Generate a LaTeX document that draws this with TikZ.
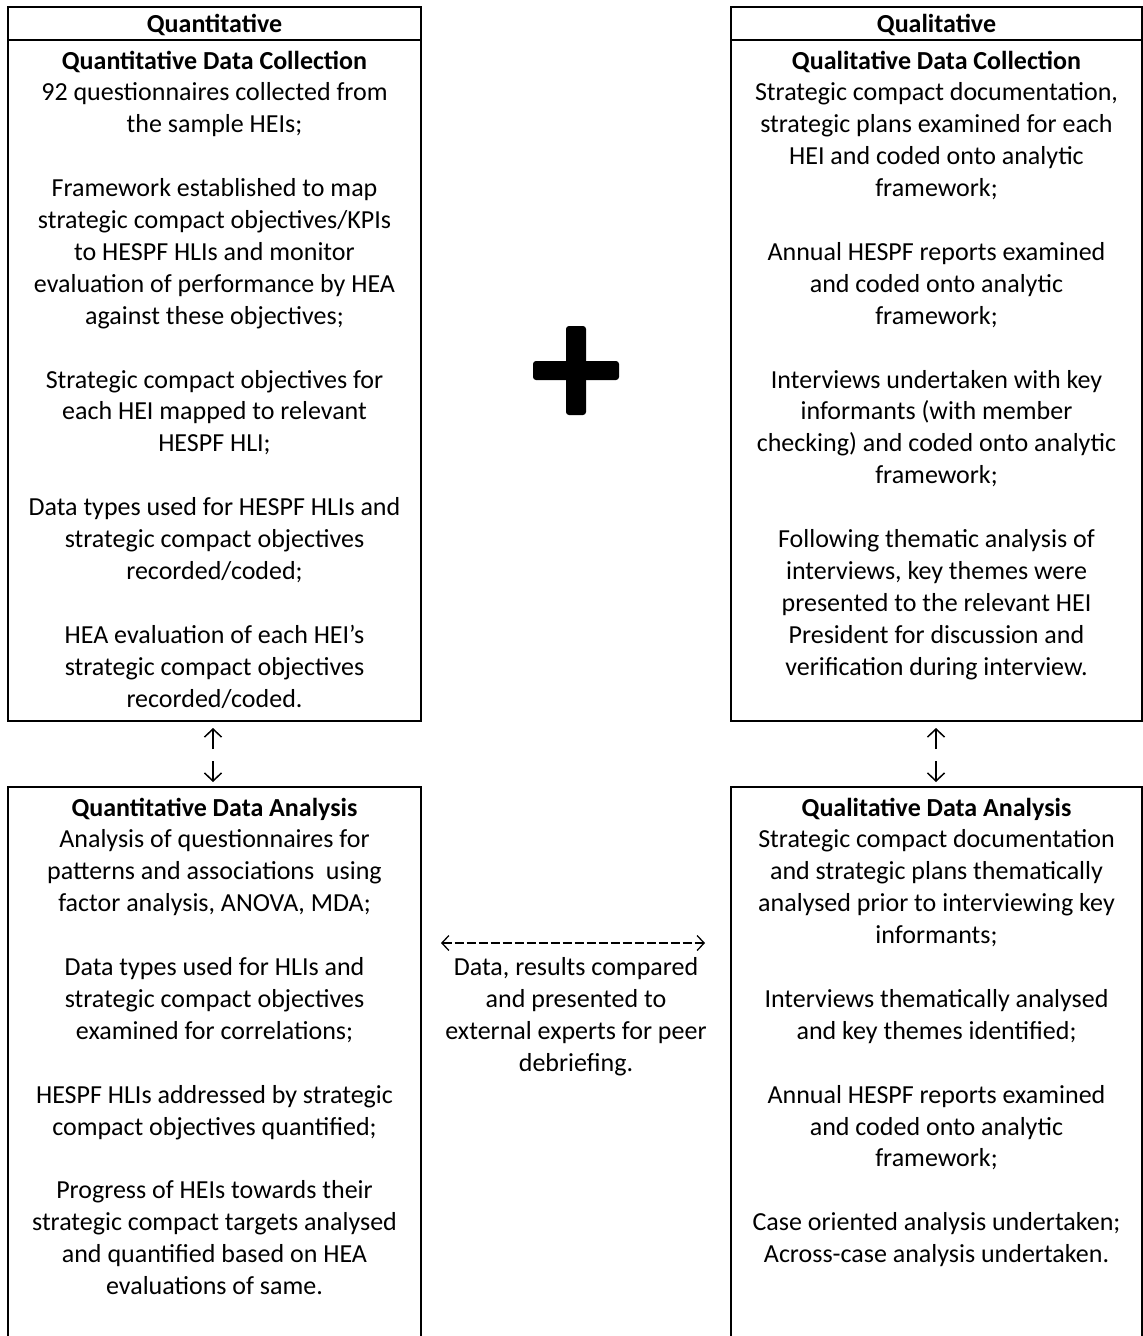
\documentclass[tikz,border=0pt]{standalone}
\usepackage{fontspec}
\setmainfont{Carlito}
\usetikzlibrary{arrows.meta}
\newcommand{\boxtext}[1]{\parbox[t]{405pt}{\centering #1}}
\begin{document}
\begin{tikzpicture}[x=1pt,y=-1pt,
  boxline/.style={line width=2pt},
  txt/.style={inner sep=0pt, anchor=base, font=\fontsize{26}{31.9}\selectfont},
  hdr/.style={inner sep=0pt, anchor=base, font=\fontsize{26}{31.9}\selectfont\bfseries},
  thinarrow/.style={line width=1.5pt, -{Straight Barb[length=8pt,width=17pt,line width=1.5pt]}},
  dasharrow/.style={line width=1.3pt, dash pattern=on 9pt off 3pt,
     {Straight Barb[length=7pt,width=15pt,line width=1.3pt]}-{Straight Barb[length=7pt,width=15pt,line width=1.3pt]}},
  plusbar/.style={fill=black, rounded corners=3pt}]
\useasboundingbox (0,0) rectangle (1143,1336);

% top boxes
\draw[boxline] (8,7) rectangle (421,721);
\draw[boxline] (8,40) -- (421,40);
\draw[boxline] (731,7) rectangle (1142,721);
\draw[boxline] (731,40) -- (1142,40);
% bottom boxes (open at bottom)
\draw[boxline] (8,1340) -- (8,787) -- (421,787) -- (421,1340);
\draw[boxline] (731,1340) -- (731,787) -- (1142,787) -- (1142,1340);

\node[hdr] (qnhead) at (214.5,32) {Quantitative};
\node[hdr] (qlhead) at (936.5,32) {Qualitative};

\node[txt] (qncoll) at (214.5,69) {\boxtext{\textbf{Quantitative Data Collection}\\
92 questionnaires collected from\\
the sample HEIs;\\ \mbox{}\\
Framework established to map\\
strategic compact objectives/KPIs\\
to HESPF HLIs and monitor\\
evaluation of performance by HEA\\
against these objectives;\\ \mbox{}\\
Strategic compact objectives for\\
each HEI mapped to relevant\\
HESPF HLI;\\ \mbox{}\\
Data types used for HESPF HLIs and\\
strategic compact objectives\\
recorded/coded;\\ \mbox{}\\
HEA evaluation of each HEI’s\\
strategic compact objectives\\
recorded/coded.}};

\node[txt] (qlcoll) at (936.5,69) {\boxtext{\textbf{Qualitative Data Collection}\\
Strategic compact documentation,\\
strategic plans examined for each\\
HEI and coded onto analytic\\
framework;\\ \mbox{}\\
Annual HESPF reports examined\\
and coded onto analytic\\
framework;\\ \mbox{}\\
Interviews undertaken with key\\
informants (with member\\
checking) and coded onto analytic\\
framework;\\ \mbox{}\\
Following thematic analysis of\\
interviews, key themes were\\
presented to the relevant HEI\\
President for discussion and\\
verification during interview.}};

\node[txt] (qnanal) at (214.5,816) {\boxtext{\textbf{Quantitative Data Analysis}\\
Analysis of questionnaires for\\
patterns and associations\ \ using\\
factor analysis, ANOVA, MDA;\\ \mbox{}\\
Data types used for HLIs and\\
strategic compact objectives\\
examined for correlations;\\ \mbox{}\\
HESPF HLIs addressed by strategic\\
compact objectives quantified;\\ \mbox{}\\
Progress of HEIs towards their\\
strategic compact targets analysed\\
and quantified based on HEA\\
evaluations of same.}};

\node[txt] (qlanal) at (936.5,816) {\boxtext{\textbf{Qualitative Data Analysis}\\
Strategic compact documentation\\
and strategic plans thematically\\
analysed prior to interviewing key\\
informants;\\ \mbox{}\\
Interviews thematically analysed\\
and key themes identified;\\ \mbox{}\\
Annual HESPF reports examined\\
and coded onto analytic\\
framework;\\ \mbox{}\\
Case oriented analysis undertaken;\\
Across-case analysis undertaken.}};

\node[txt] (middle) at (576,975.5) {\parbox[t]{300pt}{\centering Data, results compared\\
and presented to\\
external experts for peer\\
debriefing.}};

% plus sign
\fill[plusbar] (533,361) rectangle (619,380);
\fill[plusbar] (566,326) rectangle (586,415);

% small arrows between boxes
\coordinate (lu1) at (213,749); \coordinate (lu2) at (213,728);
\coordinate (ld1) at (213,761); \coordinate (ld2) at (213,782);
\coordinate (ru1) at (936,749); \coordinate (ru2) at (936,728);
\coordinate (rd1) at (936,761); \coordinate (rd2) at (936,782);
\draw[thinarrow] (lu1) -- (lu2);
\draw[thinarrow] (ld1) -- (ld2);
\draw[thinarrow] (ru1) -- (ru2);
\draw[thinarrow] (rd1) -- (rd2);

% dashed double arrow
\coordinate (dl) at (441,943);
\coordinate (dr) at (705,943);
\draw[dasharrow] (dl) -- (dr);
\end{tikzpicture}
\end{document}
